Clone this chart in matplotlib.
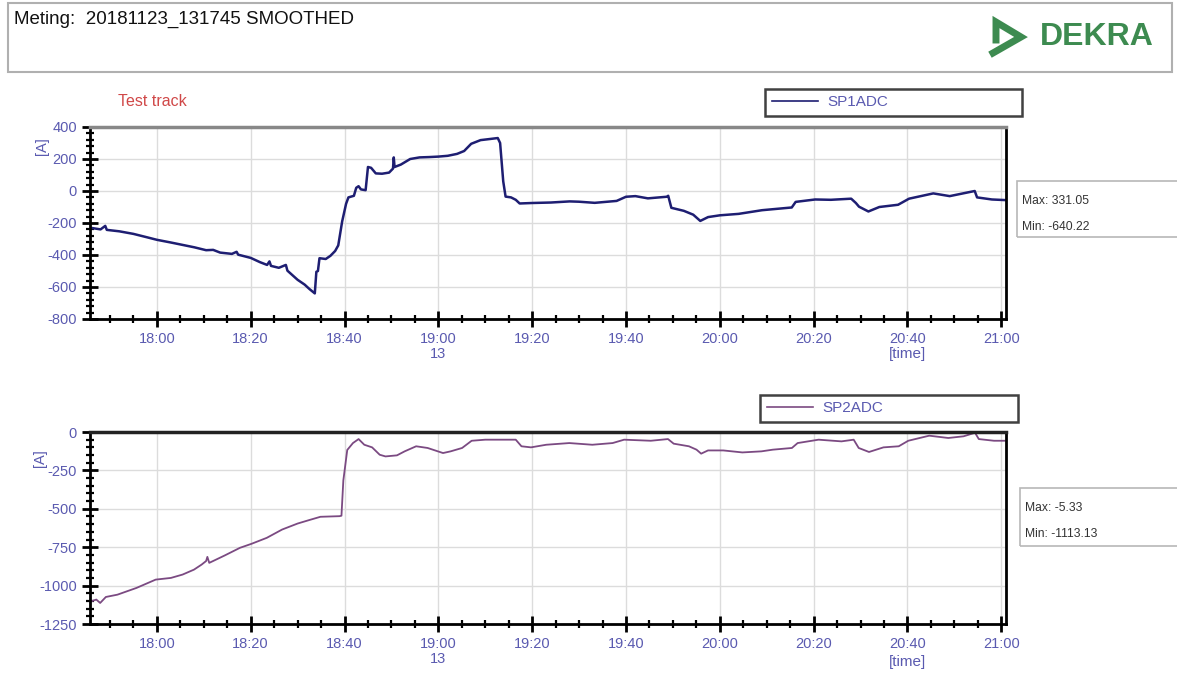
import matplotlib
matplotlib.use("Agg")
import matplotlib.pyplot as plt
import matplotlib.dates as mdates
from matplotlib.patches import Rectangle
from matplotlib.lines import Line2D
from matplotlib.ticker import MultipleLocator, FuncFormatter
import pandas as pd

plt.rcParams['font.family'] = ['Liberation Sans', 'DejaVu Sans']
plt.rcParams['axes.unicode_minus'] = False

DAY = "2018-11-23 "

sp1_times = ["17:45:40", "17:48:00", "17:49:00", "17:49:20", "17:52:00", "17:55:00", "17:58:00",
             "18:00:00", "18:03:00", "18:06:00", "18:08:00", "18:10:30", "18:12:00", "18:13:30",
             "18:16:00", "18:17:00", "18:17:20", "18:20:00", "18:22:00", "18:23:30", "18:24:00",
             "18:24:20", "18:26:00", "18:27:30", "18:27:50", "18:30:00", "18:31:30", "18:32:30",
             "18:33:40", "18:34:00", "18:34:20", "18:34:40", "18:36:00", "18:37:00", "18:38:00",
             "18:38:40", "18:39:30", "18:40:20", "18:40:50", "18:42:00", "18:42:30", "18:43:00",
             "18:43:30", "18:44:30", "18:45:00", "18:45:40", "18:46:40", "18:48:00", "18:49:30",
             "18:50:20", "18:50:30", "18:50:40", "18:52:00", "18:54:00", "18:56:00", "18:58:00",
             "19:00:00", "19:02:00", "19:04:00", "19:05:30", "19:07:00", "19:09:00", "19:11:00",
             "19:12:40", "19:13:10", "19:13:50", "19:14:20", "19:15:30", "19:16:30", "19:17:20",
             "19:20:00", "19:24:00", "19:28:00", "19:30:00", "19:33:20", "19:38:00", "19:40:00",
             "19:42:00", "19:44:40", "19:48:40", "19:49:00", "19:49:40", "19:52:20", "19:54:20",
             "19:55:50", "19:57:30", "20:00:00", "20:04:00", "20:09:00", "20:15:20", "20:16:10",
             "20:20:20", "20:23:40", "20:28:00", "20:29:00", "20:29:40", "20:31:40", "20:34:00",
             "20:38:00", "20:40:20", "20:45:30", "20:49:00", "20:54:20", "20:54:50", "20:58:00",
             "21:01:00"]
sp1_values = [-229, -240, -218, -243, -252, -268, -290,
              -305, -322, -340, -352, -370, -368, -385,
              -393, -380, -398, -418, -445, -462, -440,
              -468, -480, -462, -498, -555, -585, -612,
              -640, -505, -500, -420, -425, -405, -375,
              -340, -190, -80, -40, -30, 20, 30,
              10, 5, 150, 145, 110, 108, 115,
              140, 210, 150, 165, 200, 210, 212,
              215, 220, 232, 250, 295, 318, 325,
              331, 300, 60, -35, -40, -55, -78,
              -75, -72, -65, -67, -74, -62, -36,
              -32, -46, -36, -30, -105, -124, -148,
              -187, -163, -152, -143, -120, -103, -68,
              -53, -55, -48, -75, -98, -128, -100,
              -86, -48, -15, -32, 0, -40, -53,
              -57]

sp2_times = ["17:46:00", "17:47:06", "17:47:55", "17:49:08", "17:51:36", "17:55:40", "17:59:45",
             "18:03:00", "18:05:30", "18:07:55", "18:09:33", "18:10:30", "18:10:46", "18:11:10",
             "18:14:27", "18:17:43", "18:20:10", "18:23:26", "18:26:42", "18:30:00", "18:32:24",
             "18:34:52", "18:38:56", "18:39:21", "18:39:45", "18:40:35", "18:41:48", "18:43:00",
             "18:44:13", "18:45:53", "18:47:30", "18:48:44", "18:51:11", "18:52:49", "18:55:16",
             "18:57:43", "19:01:00", "19:02:37", "19:05:04", "19:07:06", "19:10:00", "19:16:30",
             "19:17:43", "19:19:45", "19:23:00", "19:27:55", "19:32:49", "19:37:09", "19:39:36",
             "19:45:17", "19:48:57", "19:50:10", "19:53:25", "19:55:02", "19:56:01", "19:57:29",
             "20:00:44", "20:04:48", "20:08:52", "20:11:18", "20:15:22", "20:16:35", "20:21:03",
             "20:25:56", "20:28:32", "20:29:36", "20:31:48", "20:34:53", "20:38:08", "20:40:10",
             "20:44:38", "20:48:42", "20:51:57", "20:54:24", "20:55:12", "20:58:27", "21:00:44"]
sp2_values = [-1102, -1091, -1113, -1074, -1059, -1015, -961,
              -950, -928, -896, -863, -840, -813, -852,
              -804, -754, -728, -689, -635, -596, -574,
              -552, -548, -545, -315, -117, -72, -46,
              -83, -100, -148, -159, -152, -126, -93,
              -104, -137, -126, -104, -57, -50, -50,
              -93, -100, -83, -72, -83, -72, -50,
              -57, -46, -76, -93, -115, -141, -120,
              -120, -133, -126, -115, -104, -72, -50,
              -61, -50, -104, -130, -100, -93, -57,
              -24, -39, -28, -5, -46, -57, -57]

W, H = 1177, 673
TICK_BLUE = "#5a5ab0"


def fx(x):
    return x / W


def fy(y):
    return 1 - y / H


def time_fmt(x, pos):
    t = mdates.num2date(x)
    s = t.strftime("%H:%M")
    if s == "19:00":
        s += "\n13"
    return s


def style_axis(ax, ymin, ymax, ystep, yminor, top_gray):
    ax.set_xlim(pd.Timestamp(DAY + "17:45:45"), pd.Timestamp(DAY + "21:01:00"))
    ax.set_ylim(ymin, ymax)
    ax.yaxis.set_major_locator(MultipleLocator(ystep))
    ax.yaxis.set_minor_locator(MultipleLocator(yminor))
    ax.xaxis.set_major_locator(mdates.MinuteLocator(byminute=[0, 20, 40]))
    ax.xaxis.set_minor_locator(mdates.MinuteLocator(byminute=range(0, 60, 5)))
    ax.xaxis.set_major_formatter(FuncFormatter(time_fmt))
    ax.grid(True, which="major", color="#dcdcdc", lw=1)
    ax.set_axisbelow(True)
    ax.tick_params(which="major", direction="inout", length=11, width=2, color="black",
                   labelsize=10.5, labelcolor=TICK_BLUE, pad=4)
    ax.tick_params(which="minor", direction="inout", length=6, width=1.6, color="black")
    for side in ["left", "bottom", "right"]:
        ax.spines[side].set_linewidth(2)
        ax.spines[side].set_color("black")
    ax.spines["top"].set_linewidth(2.5)
    ax.spines["top"].set_color("#888888" if top_gray else "#222222")
    for lab in ax.get_xticklabels():
        lab.set_linespacing(1.1)


fig = plt.figure(figsize=(W / 100, H / 100), dpi=100)

# header box
fig.patches.append(Rectangle((fx(8), fy(72)), fx(1164), 69 / H, transform=fig.transFigure,
                             fill=False, edgecolor="#b0b0b0", lw=1.5))
fig.text(fx(14), fy(19), "Meting:  20181123_131745 SMOOTHED", fontsize=13.5,
         va="center", ha="left", color="#111111")
green = "#3d8b50"
fig.lines.append(Line2D([fx(996), fx(996), fx(1021), fx(993)], [fy(40), fy(22), fy(37), fy(53)],
                        transform=fig.transFigure, color=green, lw=5, solid_joinstyle="miter"))
fig.text(fx(1040), fy(37), "DEKRA", fontsize=23, fontweight="bold", color=green,
         va="center", ha="left")

# top chart
ax1 = fig.add_axes([fx(90), fy(319), (1006 - 90) / W, (319 - 127) / H])
t1 = pd.to_datetime([DAY + t for t in sp1_times])
ax1.plot(t1, sp1_values, color="#1e1e72", lw=1.8, label="SP1ADC")
style_axis(ax1, -800, 400, 200, 40, True)
fig.text(fx(118), fy(101), "Test track", fontsize=11.5, color="#d04848", va="center")
fig.text(fx(42), fy(146), "[A]", fontsize=10.5, color=TICK_BLUE, rotation=90, va="center", ha="center")
fig.text(fx(907), fy(354), "[time]", fontsize=11, color=TICK_BLUE, va="center", ha="center")

# bottom chart
ax2 = fig.add_axes([fx(90), fy(624), (1006 - 90) / W, (624 - 432) / H])
t2 = pd.to_datetime([DAY + t for t in sp2_times])
ax2.plot(t2, sp2_values, color="#7b4a82", lw=1.3, label="SP2ADC")
style_axis(ax2, -1250, 0, 250, 50, False)
fig.text(fx(40), fy(458), "[A]", fontsize=10.5, color=TICK_BLUE, rotation=90, va="center", ha="center")
fig.text(fx(907), fy(662), "[time]", fontsize=11, color=TICK_BLUE, va="center", ha="center")

# legends
for ax, (x0, y0, x1, y1) in [(ax1, (765, 87, 1022, 118)), (ax2, (760, 393, 1018, 424))]:
    leg = ax.legend(loc="center left", bbox_to_anchor=(fx(x0), fy(y1), (x1 - x0) / W, (y1 - y0) / H),
                    bbox_transform=fig.transFigure, mode="expand", frameon=True, fancybox=False,
                    borderpad=0.45, handlelength=3.0, handletextpad=0.6, fontsize=11,
                    borderaxespad=0)
    leg.get_frame().set_edgecolor("#111111")
    leg.get_frame().set_linewidth(1.8)
    for txt in leg.get_texts():
        txt.set_color(TICK_BLUE)
    for ln in leg.get_lines():
        ln.set_linewidth(1.2)

# max / min boxes
for (x0, y0, y1), lines in [((1017, 181, 237), ["Max: 331.05", "Min: -640.22"]),
                            ((1020, 488, 546), ["Max: -5.33", "Min: -1113.13"])]:
    fig.patches.append(Rectangle((fx(x0), fy(y1)), fx(W - x0 + 5), (y1 - y0) / H,
                                 transform=fig.transFigure, fill=False, edgecolor="#b8b8b8", lw=1.2))
    fig.text(fx(x0 + 5), fy(y0 + 20), lines[0], fontsize=8.7, color="#333333", va="center")
    fig.text(fx(x0 + 5), fy(y0 + 46), lines[1], fontsize=8.7, color="#333333", va="center")

fig.savefig("out.png", dpi=100)
